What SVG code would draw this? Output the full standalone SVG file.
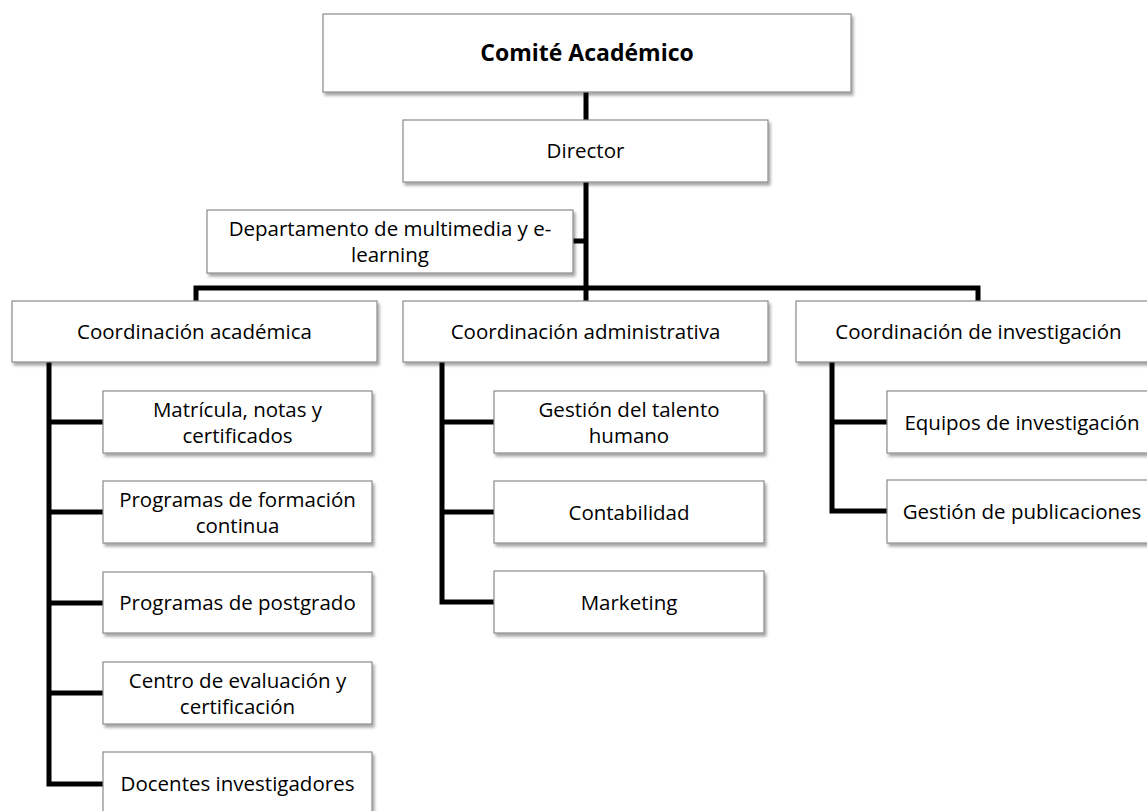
<svg xmlns="http://www.w3.org/2000/svg" width="1147" height="811" viewBox="0 0 1147 811">
<defs>
<filter id="sh" x="-10%" y="-20%" width="130%" height="160%">
<feDropShadow dx="2" dy="3" stdDeviation="1.8" flood-color="#000" flood-opacity="0.35"/>
</filter>
<style>
.box{fill:#fff;stroke:#8a8a8a;stroke-width:1.2;filter:url(#sh)}
.t{font-family:"Open Sans","Noto Sans",sans-serif;font-size:20.5px;fill:#000;text-anchor:middle}
.b{font-weight:bold;font-size:23px}
.c{fill:none;stroke:#000;stroke-width:5;stroke-linejoin:miter}
</style>
</defs>
<rect width="1147" height="811" fill="#fff"/>
<g id="connectors">
<path class="c" d="M586,92 V288"/>
<path class="c" d="M573,241 H586"/>
<path class="c" d="M196,301 V288 H978 V301"/>
<path class="c" d="M586,288 V301"/>
<path class="c" d="M49,362 V784 H103"/>
<path class="c" d="M49,422 H103 M49,512 H103 M49,603 H103 M49,693 H103"/>
<path class="c" d="M442,362 V602 H494"/>
<path class="c" d="M442,422 H494 M442,512 H494"/>
<path class="c" d="M832,362 V511 H887"/>
<path class="c" d="M832,422 H887"/>
</g>
<g id="comite"><rect class="box" x="323" y="14" width="528" height="78"/><text class="t b" x="587" y="61">Comité Académico</text></g>
<g id="director"><rect class="box" x="403" y="120" width="365" height="62"/><text class="t" x="585.5" y="158">Director</text></g>
<g id="multimedia"><rect class="box" x="207" y="210" width="366" height="63"/><text class="t" x="390" y="236">Departamento de multimedia y e-</text><text class="t" x="390" y="262">learning</text></g>
<g id="coord-academica"><rect class="box" x="12" y="301" width="365" height="61"/><text class="t" x="194.5" y="339">Coordinación académica</text></g>
<g id="coord-administrativa"><rect class="box" x="403" y="301" width="365" height="61"/><text class="t" x="585.5" y="339">Coordinación administrativa</text></g>
<g id="coord-investigacion"><rect class="box" x="796" y="301" width="365" height="61"/><text class="t" x="978.5" y="339">Coordinación de investigación</text></g>
<g id="matricula"><rect class="box" x="103" y="391" width="269" height="62"/><text class="t" x="237.5" y="416.5">Matrícula, notas y</text><text class="t" x="237.5" y="442.5">certificados</text></g>
<g id="formacion"><rect class="box" x="103" y="481" width="269" height="62"/><text class="t" x="237.5" y="506.5">Programas de formación</text><text class="t" x="237.5" y="532.5">continua</text></g>
<g id="postgrado"><rect class="box" x="103" y="572" width="269" height="61"/><text class="t" x="237.5" y="610">Programas de postgrado</text></g>
<g id="centro"><rect class="box" x="103" y="662" width="269" height="62"/><text class="t" x="237.5" y="687.5">Centro de evaluación y</text><text class="t" x="237.5" y="713.5">certificación</text></g>
<g id="docentes"><rect class="box" x="103" y="752" width="269" height="62"/><text class="t" x="237.5" y="791">Docentes investigadores</text></g>
<g id="talento"><rect class="box" x="494" y="391" width="270" height="62"/><text class="t" x="629" y="416.5">Gestión del talento</text><text class="t" x="629" y="442.5">humano</text></g>
<g id="contabilidad"><rect class="box" x="494" y="481" width="270" height="62"/><text class="t" x="629" y="520">Contabilidad</text></g>
<g id="marketing"><rect class="box" x="494" y="571" width="270" height="62"/><text class="t" x="629" y="610">Marketing</text></g>
<g id="equipos"><rect class="box" x="887" y="391" width="270" height="62"/><text class="t" x="1022" y="430">Equipos de investigación</text></g>
<g id="publicaciones"><rect class="box" x="887" y="480" width="270" height="63"/><text class="t" x="1022" y="519">Gestión de publicaciones</text></g>
</svg>
